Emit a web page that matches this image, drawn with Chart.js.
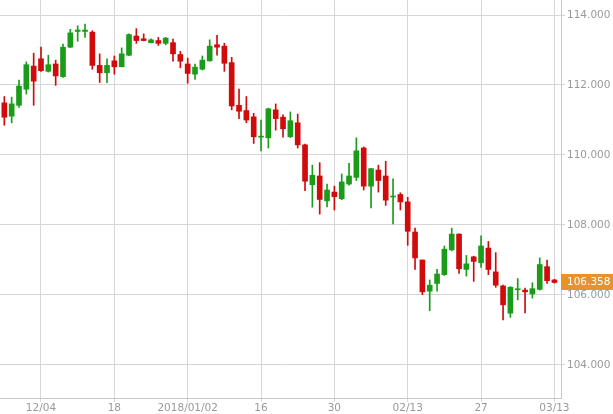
<!DOCTYPE html>
<html>
<head>
<meta charset="utf-8">
<script src="https://cdn.jsdelivr.net/npm/chart.js@4/dist/chart.umd.min.js"></script>
<style>
html,body{margin:0;padding:0;background:#fff;}
#wrap{width:613px;height:414px;position:relative;}
</style>
</head>
<body>
<div id="wrap"><canvas id="c"></canvas></div>
<script>
const dates = ['11/27','11/28','11/29','11/30','12/01','12/04','12/05','12/06','12/07','12/08',
'12/11','12/12','12/13','12/14','12/15','12/18','12/19','12/20','12/21','12/22',
'12/26','12/27','12/28','12/29','01/01','01/02','01/03','01/04','01/05','01/08',
'01/09','01/10','01/11','01/12','01/15','01/16','01/17','01/18','01/19','01/22',
'01/23','01/24','01/25','01/26','01/29','01/30','01/31','02/01','02/02','02/05',
'02/06','02/07','02/08','02/09','02/12','02/13','02/14','02/15','02/16','02/19',
'02/20','02/21','02/22','02/23','02/26','02/27','02/28','03/01','03/02','03/05',
'03/06','03/07','03/08','03/09','03/12','03/13'];

const open = [111.49,111.11,111.42,111.88,112.54,112.75,112.39,112.60,112.24,113.08,
113.53,113.53,113.51,112.56,112.35,112.69,112.52,112.85,113.40,113.32,
113.21,113.27,113.19,113.21,112.87,112.60,112.31,112.45,112.69,113.15,
113.11,112.64,111.42,111.27,111.09,110.51,110.49,111.29,111.08,110.52,
110.92,110.29,109.15,109.40,108.69,108.94,108.75,109.17,109.36,110.20,
109.11,109.57,109.40,108.80,108.87,108.66,107.80,107.00,106.11,106.33,
106.58,107.29,107.74,106.73,107.09,106.92,107.34,106.66,106.26,105.48,
106.15,106.14,106.03,106.16,106.81,106.43];

const high = [111.67,111.65,112.14,112.66,112.91,113.08,112.85,112.71,113.17,113.59,
113.69,113.74,113.55,112.89,112.75,112.83,113.06,113.46,113.61,113.46,
113.32,113.36,113.36,113.31,112.96,112.77,112.60,112.83,113.29,113.42,
113.19,112.79,111.88,111.67,111.19,111.00,111.34,111.46,111.15,111.23,
111.17,110.31,109.71,109.78,109.17,109.11,109.46,109.76,110.49,110.23,
109.62,109.71,109.82,109.32,108.92,108.79,107.91,107.00,106.43,106.73,
107.40,107.91,107.75,107.13,107.11,107.69,107.53,107.21,106.28,106.24,
106.47,106.20,106.35,107.06,107.00,106.45];

const low = [110.85,110.92,111.36,111.74,111.42,112.39,112.37,111.99,112.22,113.07,
113.25,113.36,112.45,112.07,112.07,112.31,112.52,112.84,113.19,113.26,
113.20,113.13,113.15,112.68,112.49,112.05,112.16,112.43,112.68,112.85,
112.39,111.29,111.04,110.92,110.33,110.12,110.20,110.71,110.51,110.50,
110.20,108.98,108.51,108.31,108.52,108.43,108.72,109.14,109.27,109.00,
108.49,108.94,108.56,108.03,108.43,107.42,106.73,106.01,105.55,106.11,
106.56,107.26,106.62,106.54,106.39,106.79,106.58,106.22,105.29,105.36,
105.86,105.49,105.91,106.14,106.33,106.34];

const close = [111.08,111.46,111.97,112.58,112.11,112.41,112.58,112.26,113.08,113.49,
113.57,113.57,112.56,112.35,112.56,112.52,112.89,113.44,113.27,113.27,
113.29,113.19,113.34,112.89,112.68,112.33,112.51,112.71,113.11,113.08,
112.62,111.40,111.25,111.00,110.52,110.54,111.32,111.04,110.75,110.98,
110.29,109.25,109.42,108.73,109.00,108.81,109.23,109.40,110.12,109.11,
109.61,109.27,108.71,108.82,108.66,107.82,107.06,106.09,106.28,106.60,
107.31,107.74,106.75,106.89,106.96,107.40,106.73,106.28,105.72,106.22,
106.17,106.09,106.18,106.87,106.41,106.358];

const tickIndex = [5,15,25,35,45,55,65,75];
const tickLabels = ['12/04','18','2018/01/02','16','30','02/13','27','03/13'];
const yTicks = [104,106,108,110,112,114];

const UP = '#1a9c1a', DOWN = '#d00b0b';
const colors = dates.map((d,i)=> close[i] >= open[i] ? UP : DOWN);

const wickData = dates.map((d,i)=>({x:i, y:[low[i], high[i]]}));
const bodyData = dates.map((d,i)=>({x:i, y:[open[i], close[i]]}));

const priceTag = {
  id:'priceTag',
  afterDraw(chart){
    const ys = chart.scales.y, ca = chart.chartArea, ctx = chart.ctx;
    const v = close[close.length-1];
    const y = ys.getPixelForValue(v);
    ctx.save();
    ctx.fillStyle = '#e8922c';
    ctx.fillRect(ca.right, Math.round(y-8), chart.width-ca.right, 16);
    ctx.fillStyle = '#ffffff';
    ctx.font = '10.5px "DejaVu Sans"';
    ctx.textBaseline = 'middle';
    ctx.textAlign = 'left';
    ctx.fillText(v.toFixed(3), ca.right+6, Math.round(y));
    ctx.restore();
  }
};

new Chart(document.getElementById('c'), {
  type:'bar',
  data:{
    datasets:[
      {data:wickData, backgroundColor:colors, borderWidth:0, barThickness:1, grouped:false, order:2},
      {data:bodyData, backgroundColor:colors, borderWidth:0, barThickness:5, grouped:false, order:1, minBarLength:1}
    ]
  },
  options:{
    responsive:true, maintainAspectRatio:false, animation:false,
    layout:{padding:0},
    plugins:{legend:{display:false}, tooltip:{enabled:false}},
    scales:{
      x:{
        type:'linear', min:-0.59, max:75.9, offset:false,
        afterBuildTicks(s){ s.ticks = tickIndex.map(v=>({value:v})); },
        afterFit(s){ s.height = 16; },
        grid:{color:'#d6d6d6', tickLength:4, drawTicks:true, offset:false},
        border:{color:'#c8c8c8'},
        ticks:{autoSkip:false, maxRotation:0, padding:0, color:'#999', font:{family:'DejaVu Sans', size:10.5},
          callback(v){ const k = tickIndex.indexOf(v); return k>=0 ? tickLabels[k] : ''; }}
      },
      y:{
        position:'right', min:103.057, max:114.4286,
        afterBuildTicks(s){ s.ticks = yTicks.map(v=>({value:v})); },
        afterFit(s){ s.width = 52; s.paddingTop = 0; s.paddingBottom = 0; },
        grid:{color:'#d6d6d6', tickLength:4, drawTicks:true},
        border:{color:'#c8c8c8'},
        ticks:{padding:2, color:'#999', font:{family:'DejaVu Sans', size:10.5},
          callback(v){ return Number(v).toFixed(3); }}
      }
    }
  },
  plugins:[priceTag]
});
</script>
</body>
</html>
